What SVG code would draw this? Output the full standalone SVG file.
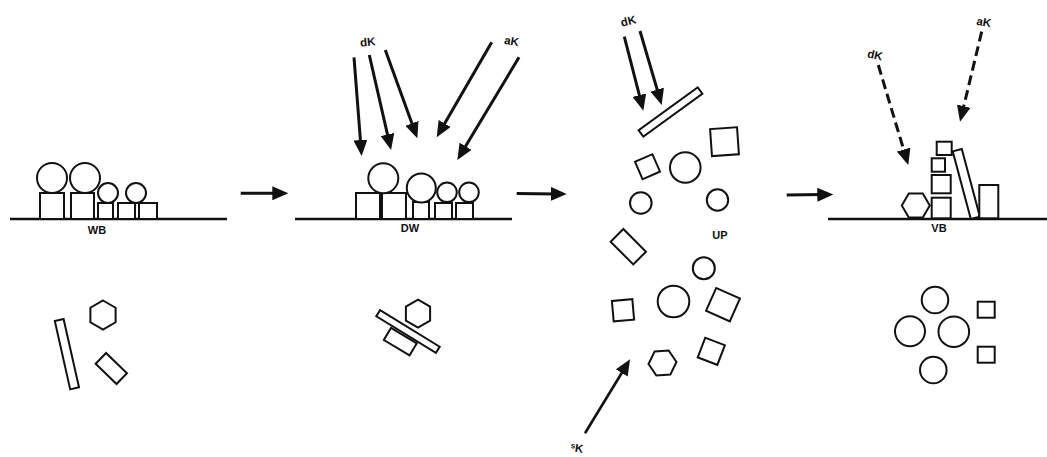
<svg xmlns="http://www.w3.org/2000/svg" width="1047" height="457" viewBox="0 0 1047 457">
<defs>
<style>
.sh{fill:#fff;stroke:#111;stroke-width:2}
.base{stroke:#111;stroke-width:2.6;fill:none}
.ar{stroke:#111;stroke-width:3;fill:none}
.dash{stroke:#111;stroke-width:3;fill:none;stroke-dasharray:10 5}
.lbl{font-family:"Liberation Sans",Arial,sans-serif;font-weight:bold;font-size:11px;fill:#111;text-anchor:middle}
.k{font-family:"Liberation Sans",Arial,sans-serif;font-weight:bold;font-size:11.5px;fill:#111;text-anchor:middle}
</style>
<marker id="ah" markerUnits="userSpaceOnUse" markerWidth="17" markerHeight="14" refX="5" refY="7" orient="auto">
<path d="M0,0 L16,7 L0,14 z" fill="#111"/>
</marker>
</defs>
<rect width="1047" height="457" fill="#fff"/>

<g id="connectors">
<line class="ar" x1="240.7" y1="193.3" x2="277.3" y2="193.3" marker-end="url(#ah)"/>
<line class="ar" x1="516.7" y1="193.5" x2="555.7" y2="193.9" marker-end="url(#ah)"/>
<line class="ar" x1="786.7" y1="195" x2="822.3" y2="194.6" marker-end="url(#ah)"/>
<line class="ar" x1="354" y1="57.3" x2="360.8" y2="145" marker-end="url(#ah)"/>
<line class="ar" x1="369.3" y1="55" x2="388.6" y2="139.3" marker-end="url(#ah)"/>
<line class="ar" x1="385.3" y1="50" x2="413.6" y2="128" marker-end="url(#ah)"/>
<line class="ar" x1="491.7" y1="42.3" x2="442.2" y2="127.8" marker-end="url(#ah)"/>
<line class="ar" x1="519" y1="57.3" x2="463" y2="150.6" marker-end="url(#ah)"/>
<line class="ar" x1="624.3" y1="36.7" x2="640.6" y2="100" marker-end="url(#ah)"/>
<line class="ar" x1="640" y1="31" x2="658.6" y2="94.4" marker-end="url(#ah)"/>
<line class="ar" style="stroke-width:2.6" x1="585" y1="433.3" x2="624.3" y2="368.7" marker-end="url(#ah)"/>
<line class="dash" x1="878.3" y1="65" x2="905.1" y2="154.4" marker-end="url(#ah)"/>
<line class="dash" x1="981.7" y1="31.7" x2="962.6" y2="111" marker-end="url(#ah)"/>
</g>

<g id="WB">
<line class="base" x1="10" y1="219" x2="227" y2="219"/>
<rect class="sh" x="40" y="193" width="24" height="26"/>
<rect class="sh" x="71" y="193" width="23" height="26"/>
<rect class="sh" x="98" y="203" width="15" height="16"/>
<rect class="sh" x="118" y="203" width="17" height="16"/>
<rect class="sh" x="139" y="203" width="18" height="16"/>
<circle class="sh" cx="52" cy="178" r="15"/>
<circle class="sh" cx="85" cy="178" r="15"/>
<circle class="sh" cx="108" cy="193" r="10"/>
<circle class="sh" cx="136" cy="193" r="10"/>
<text class="lbl" x="97" y="234">WB</text>
<rect class="sh" x="-4.5" y="-35" width="9" height="70" transform="translate(66.9,354.2) rotate(-12.7)"/>
<polygon class="sh" points="103,300.5 115.6,307.75 115.6,322.25 103,329.5 90.4,322.25 90.4,307.75"/>
<rect class="sh" x="-14.5" y="-7.5" width="29" height="15" transform="translate(111.3,368.5) rotate(44)"/>
</g>

<g id="DW">
<line class="base" x1="295" y1="219" x2="512" y2="219"/>
<rect class="sh" x="356" y="193" width="24" height="26"/>
<rect class="sh" x="382" y="193" width="24" height="26"/>
<rect class="sh" x="413" y="202" width="16" height="17"/>
<rect class="sh" x="435" y="203" width="17" height="16"/>
<rect class="sh" x="456" y="203" width="17" height="16"/>
<circle class="sh" cx="383.3" cy="178.3" r="15"/>
<circle class="sh" cx="421.3" cy="188" r="14.5"/>
<circle class="sh" cx="447" cy="192.3" r="9.8"/>
<circle class="sh" cx="469" cy="192.3" r="9.8"/>
<text class="lbl" x="410" y="232">DW</text>
<text class="k" x="367.7" y="46" transform="rotate(-6 367.7 42)">dK</text>
<text class="k" x="511.7" y="45" transform="rotate(10 511.7 41)">aK</text>
<rect class="sh" x="-15" y="-7" width="30" height="14" transform="translate(400.3,341.7) rotate(31)"/>
<polygon class="sh" points="418,299.7 430.1,306.7 430.1,320.7 418,327.7 405.9,320.7 405.9,306.7"/>
<rect class="sh" x="-35" y="-3.6" width="70" height="7.2" transform="translate(408,331.5) rotate(31.6)"/>
</g>

<g id="UP">
<text class="k" x="628.3" y="25" transform="rotate(-14 628.3 21)">dK</text>
<rect class="sh" x="-36.5" y="-4" width="73" height="8" transform="translate(670.5,112) rotate(-36)"/>
<rect class="sh" x="-9.5" y="-9.5" width="19" height="19" transform="translate(647.5,166.7) rotate(-23.5)"/>
<circle class="sh" cx="685.3" cy="167.5" r="15.3"/>
<rect class="sh" x="-13.5" y="-13.5" width="27" height="27" transform="translate(724.5,141.7) rotate(-4)"/>
<circle class="sh" cx="640.8" cy="203" r="10.8"/>
<circle class="sh" cx="717.5" cy="200" r="10.7"/>
<text class="lbl" x="720" y="239">UP</text>
<rect class="sh" x="-16" y="-9" width="32" height="18" transform="translate(628.3,246.7) rotate(45)"/>
<circle class="sh" cx="703.8" cy="268.3" r="11"/>
<rect class="sh" x="-10.25" y="-10.25" width="20.5" height="20.5" transform="translate(623,310.3) rotate(-5)"/>
<circle class="sh" cx="673.5" cy="301.5" r="15.8"/>
<rect class="sh" x="-13" y="-12.5" width="26" height="25" transform="translate(723,304.7) rotate(24)"/>
<rect class="sh" x="-10.5" y="-10.5" width="21" height="21" transform="translate(711.3,351.3) rotate(21)"/>
<polygon class="sh" points="676.5,363 669.5,375.1 655.5,375.1 648.5,363 655.5,350.9 669.5,350.9" transform="rotate(-4 662.5 363)"/>
<text class="k" x="577" y="452" transform="rotate(8 577 448)"><tspan font-size="8" dy="-3">s</tspan><tspan dy="3">K</tspan></text>
</g>

<g id="VB">
<line class="base" x1="828" y1="219" x2="1047" y2="219"/>
<text class="k" x="875" y="59" transform="rotate(12 875 55)">dK</text>
<text class="k" x="984" y="26" transform="rotate(10 984 22)">aK</text>
<polygon class="sh" points="929.8,205.5 922.8,217.6 908.8,217.6 901.8,205.5 908.8,193.4 922.8,193.4"/>
<rect class="sh" x="931.7" y="197.7" width="19" height="20.6"/>
<rect class="sh" x="931.7" y="175" width="19" height="18.3"/>
<rect class="sh" x="931.7" y="158.3" width="13.3" height="13.4"/>
<rect class="sh" x="936.7" y="141.7" width="15" height="13.3"/>
<rect class="sh" x="-4.7" y="-35" width="9.4" height="70" transform="translate(966.3,184) rotate(-15)"/>
<rect class="sh" x="979.3" y="185" width="19" height="33.3"/>
<text class="lbl" x="939" y="232">VB</text>
<circle class="sh" cx="935" cy="300" r="13.3"/>
<circle class="sh" cx="910" cy="331.3" r="15"/>
<circle class="sh" cx="953.8" cy="331.7" r="15.3"/>
<circle class="sh" cx="933.3" cy="370" r="13.3"/>
<rect class="sh" x="977.7" y="301.7" width="17" height="16"/>
<rect class="sh" x="977.7" y="346.7" width="17" height="16"/>
</g>
</svg>
